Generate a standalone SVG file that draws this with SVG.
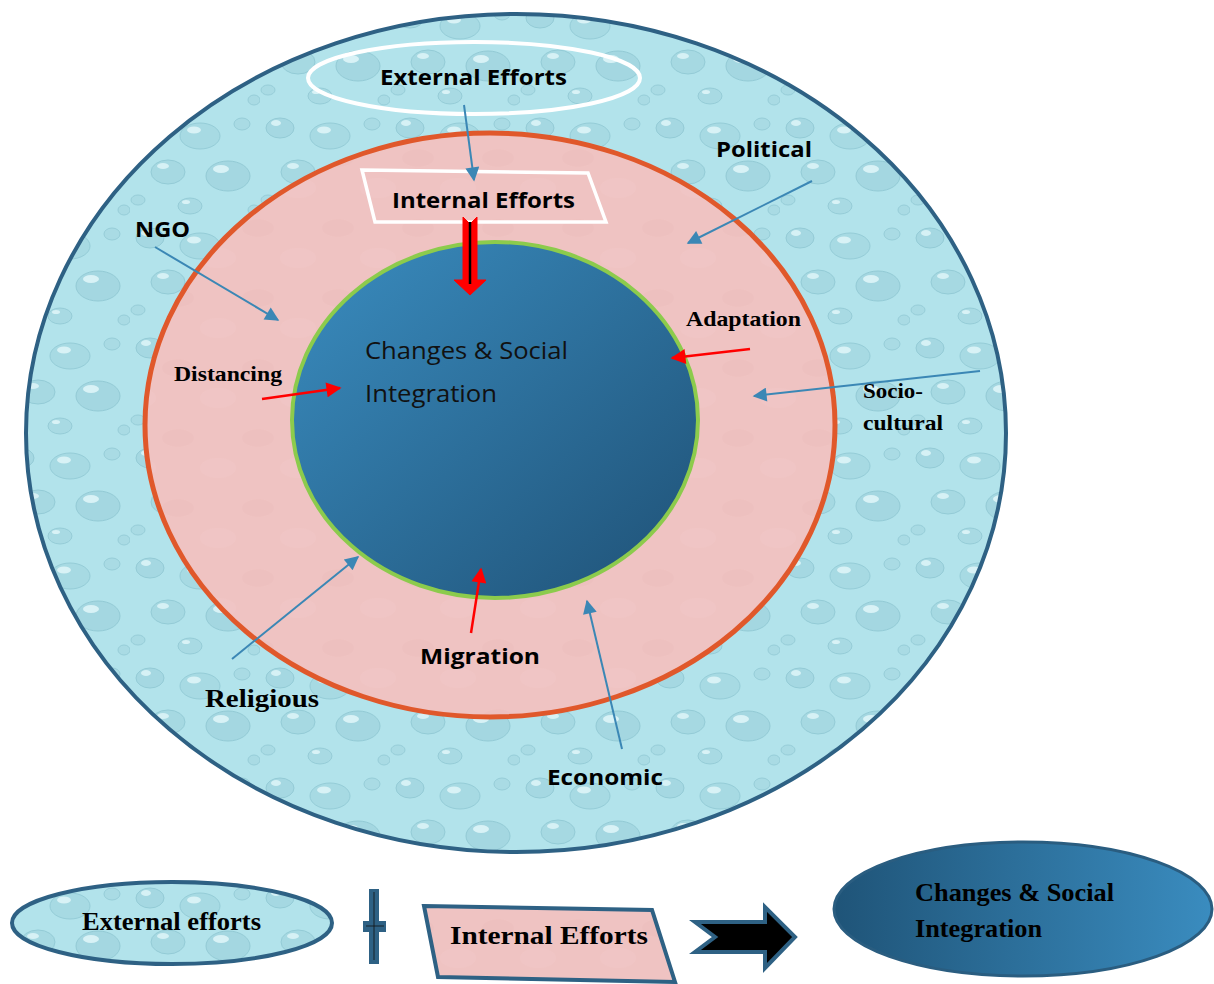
<svg xmlns="http://www.w3.org/2000/svg" width="1214" height="984" viewBox="0 0 1214 984">
<defs>
<pattern id="water" patternUnits="userSpaceOnUse" width="130" height="110">
<rect width="130" height="110" fill="#b2e3eb"/>
<ellipse cx="20" cy="18" rx="14" ry="10" fill="#a5d8e2" stroke="#93cbd6" stroke-width="1"/>
<ellipse cx="16" cy="13" rx="5" ry="3" fill="#d6f1f5"/>
<ellipse cx="70" cy="26" rx="20" ry="13" fill="#a7dae3" stroke="#94ccd7" stroke-width="1"/>
<ellipse cx="64" cy="20" rx="7" ry="3.5" fill="#d8f2f6"/>
<ellipse cx="112" cy="14" rx="8" ry="6" fill="#a9dbe4" stroke="#96cdd8" stroke-width="1"/>
<ellipse cx="38" cy="62" rx="17" ry="12" fill="#a6d9e2" stroke="#93cbd6" stroke-width="1"/>
<ellipse cx="33" cy="56" rx="6" ry="3" fill="#d6f1f5"/>
<ellipse cx="98" cy="66" rx="22" ry="15" fill="#a4d7e1" stroke="#92cad5" stroke-width="1"/>
<ellipse cx="91" cy="59" rx="8" ry="4" fill="#d8f2f6"/>
<ellipse cx="8" cy="90" rx="7" ry="5" fill="#a9dbe4" stroke="#96cdd8" stroke-width="1"/>
<ellipse cx="60" cy="96" rx="12" ry="8" fill="#a8dae3" stroke="#95ccd7" stroke-width="1"/>
<ellipse cx="56" cy="92" rx="4" ry="2" fill="#d8f2f6"/>
<ellipse cx="124" cy="100" rx="6" ry="5" fill="#a9dbe4" stroke="#96cdd8" stroke-width="1"/>
</pattern>
<pattern id="pink" patternUnits="userSpaceOnUse" width="80" height="70">
<rect width="80" height="70" fill="#efc3c2"/>
<ellipse cx="18" cy="18" rx="16" ry="9" fill="#ebbdbc" opacity="0.5"/>
<ellipse cx="58" cy="48" rx="18" ry="10" fill="#f1c8c7" opacity="0.5"/>
</pattern>
<linearGradient id="core" x1="0" y1="0" x2="1" y2="1">
<stop offset="0" stop-color="#3a8dc0"/>
<stop offset="1" stop-color="#1f5176"/>
</linearGradient>
<linearGradient id="legcore" x1="0" y1="0" x2="1" y2="0">
<stop offset="0" stop-color="#1f5478"/>
<stop offset="1" stop-color="#3a8cbf"/>
</linearGradient>
<marker id="ab" viewBox="0 0 10 10" refX="9" refY="5" markerWidth="8" markerHeight="7" markerUnits="strokeWidth" orient="auto">
<path d="M0,0 L10,5 L0,10 Z" fill="#3b87b5"/>
</marker>
<marker id="ar" viewBox="0 0 10 10" refX="9" refY="5" markerWidth="7" markerHeight="6" markerUnits="strokeWidth" orient="auto">
<path d="M0,0 L10,5 L0,10 Z" fill="#ff0000"/>
</marker>
<style>
.sans{font-family:"Open Sans","Liberation Sans",sans-serif;font-weight:bold;fill:#000}
.reg{font-family:"Open Sans","Liberation Sans",sans-serif;fill:#111}
.serif{font-family:"Liberation Serif","Times New Roman",serif;font-weight:bold;fill:#000}
.blue{stroke:#3b87b5;stroke-width:2;fill:none;marker-end:url(#ab)}
.red{stroke:#ff0000;stroke-width:2.5;fill:none;marker-end:url(#ar)}
</style>
</defs>
<rect width="1214" height="984" fill="#ffffff"/>

<g id="outer">
<ellipse cx="516" cy="433" rx="490" ry="419" fill="url(#water)" stroke="#2e6184" stroke-width="4"/>
</g>
<g id="middle">
<ellipse cx="490" cy="425" rx="345" ry="292" fill="url(#pink)" stroke="#e0582b" stroke-width="5"/>
</g>
<g id="core-node">
<ellipse cx="495" cy="420" rx="203" ry="178" fill="url(#core)" stroke="#8ccb4c" stroke-width="4"/>
<text class="reg" x="365" y="359" font-size="23" textLength="203" lengthAdjust="spacingAndGlyphs">Changes &amp; Social</text>
<text class="reg" x="365" y="402" font-size="23" textLength="132" lengthAdjust="spacingAndGlyphs">Integration</text>
</g>
<g id="external">
<ellipse cx="474" cy="78" rx="166" ry="36" fill="none" stroke="#ffffff" stroke-width="4"/>
<text class="sans" x="380" y="85" font-size="22" textLength="187" lengthAdjust="spacingAndGlyphs">External Efforts</text>
</g>
<g id="internal">
<polygon points="362,170 588,173 606,222 375,222" fill="none" stroke="#ffffff" stroke-width="3.5"/>
<text class="sans" x="392" y="208" font-size="22" textLength="183" lengthAdjust="spacingAndGlyphs">Internal Efforts</text>
</g>
<g id="labels">
<text class="sans" x="716" y="157" font-size="22" textLength="96" lengthAdjust="spacingAndGlyphs">Political</text>
<text class="sans" x="135" y="237" font-size="22" textLength="55" lengthAdjust="spacingAndGlyphs">NGO</text>
<text class="serif" x="686" y="326" font-size="21" textLength="115" lengthAdjust="spacingAndGlyphs">Adaptation</text>
<text class="serif" x="174" y="381" font-size="21" textLength="108" lengthAdjust="spacingAndGlyphs">Distancing</text>
<text class="serif" x="863" y="398" font-size="21" textLength="60" lengthAdjust="spacingAndGlyphs">Socio-</text>
<text class="serif" x="863" y="430" font-size="21" textLength="80" lengthAdjust="spacingAndGlyphs">cultural</text>
<text class="serif" x="205" y="707" font-size="25" textLength="114" lengthAdjust="spacingAndGlyphs">Religious</text>
<text class="sans" x="420" y="664" font-size="22" textLength="120" lengthAdjust="spacingAndGlyphs">Migration</text>
<text class="sans" x="547" y="785" font-size="22" textLength="116" lengthAdjust="spacingAndGlyphs">Economic</text>
</g>
<g id="connectors">
<line class="blue" x1="464" y1="105" x2="474" y2="180"/>
<line class="blue" x1="812" y1="181" x2="688" y2="243"/>
<line class="blue" x1="155" y1="247" x2="278" y2="320"/>
<line class="blue" x1="980" y1="371" x2="754" y2="396"/>
<line class="blue" x1="232" y1="659" x2="358" y2="557"/>
<line class="blue" x1="622" y1="749" x2="587" y2="601"/>
<line class="red" x1="750" y1="349" x2="672" y2="358"/>
<line class="red" x1="262" y1="399" x2="340" y2="388"/>
<line class="red" x1="471" y1="633" x2="481" y2="569"/>
<polygon points="463,217 470,224 477,217 477,280 486,280 470,295 454,280 463,280" fill="#ff0000" stroke="#ff0000" stroke-width="1"/>
<line x1="470" y1="222" x2="470" y2="284" stroke="#000" stroke-width="2.5"/>
</g>

<g id="legend-external">
<ellipse cx="172" cy="923" rx="160" ry="41" fill="url(#water)" stroke="#2e6184" stroke-width="4"/>
<text class="serif" x="82" y="930" font-size="25" textLength="179" lengthAdjust="spacingAndGlyphs">External efforts</text>
</g>
<g id="legend-cross">
<rect x="369" y="889" width="10" height="75" fill="#2e6184"/>
<rect x="363" y="921" width="23" height="11" fill="#2e6184"/>
<line x1="374" y1="892" x2="374" y2="960" stroke="#111" stroke-width="0.8"/>
<line x1="366" y1="926" x2="384" y2="926" stroke="#111" stroke-width="0.8"/>
</g>
<g id="legend-internal">
<polygon points="424,906 652,910 675,982 438,977" fill="url(#pink)" stroke="#2e6184" stroke-width="4"/>
<text class="serif" x="450" y="944" font-size="26" textLength="198" lengthAdjust="spacingAndGlyphs">Internal Efforts</text>
</g>
<g id="legend-arrow">
<polygon points="695,922 765,922 765,907 795,937 765,968 765,952 695,952 715,937" fill="#000" stroke="#2e6184" stroke-width="4" stroke-linejoin="miter"/>
</g>
<g id="legend-core">
<ellipse cx="1023" cy="909" rx="189" ry="67" fill="url(#legcore)" stroke="#2a5d80" stroke-width="3"/>
<text class="serif" x="915" y="901" font-size="25" textLength="199" lengthAdjust="spacingAndGlyphs">Changes &amp; Social</text>
<text class="serif" x="915" y="937" font-size="25" textLength="127" lengthAdjust="spacingAndGlyphs">Integration</text>
</g>
</svg>
